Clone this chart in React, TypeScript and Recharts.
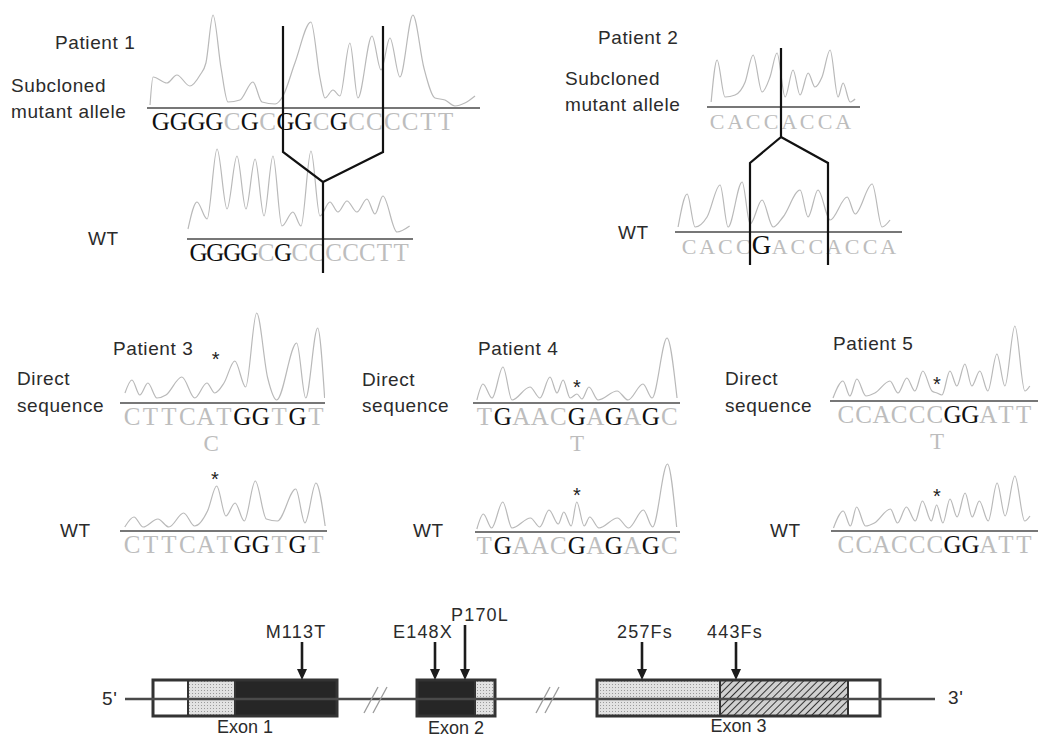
import React from 'react';
import { LineChart, Line, XAxis, YAxis, ReferenceDot, ComposedChart, ReferenceArea, ReferenceLine, Scatter } from 'recharts';

type Pt = [number, number];

// base calls under each trace
const p1MutSeq = 'GGGGCGCGGCGCCCCTT';
const p1WtSeq = 'GGGGCGCCCCCTT';
const p2MutSeq = 'CACCACCA';
const p2WtSeq = 'CACCGACCACCA';
const p3Seq = 'CTTCATGGTGT';
const p4Seq = 'TGAACGAGAGC';
const p5Seq = 'CCACCCGGATT';

// traces: [position in bases, signal height]
const p1MutTrace: Pt[] = [
  [-0.11, 3], [0.06, 31], [0.84, 25], [1.4, 33], [2.13, 22], [2.7, 33], [3.03, 45], [3.43, 93], [3.88, 40],
  [4.27, 6], [4.94, 8], [5.67, 26], [6.18, 6], [6.92, 4], [7.36, 12], [8.03, 45], [8.93, 86], [9.44, 30],
  [9.72, 10], [10.17, 18], [10.56, 12], [11.12, 65], [11.57, 10], [12.36, 72], [12.87, 38], [13.37, 70],
  [13.93, 31], [14.66, 93], [15.28, 40], [15.9, 10], [16.46, 8], [17.02, 2], [17.58, 5], [18.15, 12],
];
const p1WtTrace: Pt[] = [
  [-0.12, 10], [0.41, 37], [1.01, 20], [1.6, 90], [2.19, 30], [2.78, 83], [3.31, 30], [3.85, 80], [4.38, 23],
  [4.91, 83], [5.44, 13], [6.09, 27], [6.57, 13], [7.16, 88], [7.69, 23], [8.28, 37], [8.76, 27], [9.29, 38],
  [9.88, 27], [10.47, 40], [10.95, 25], [11.42, 43], [12.25, 7], [13.0, 13],
];
const p2MutTrace: Pt[] = [
  [0.17, 5], [0.5, 47], [0.94, 10], [1.5, 12], [2.06, 25], [2.5, 52], [3.0, 15], [3.44, 30], [3.83, 54],
  [4.28, 10], [4.72, 37], [5.11, 12], [5.56, 34], [5.94, 20], [6.33, 30], [6.78, 57], [7.22, 10], [7.5, 24],
  [7.89, 5], [8.17, 8],
];
const p2WtTrace: Pt[] = [
  [-0.11, 5], [0.39, 38], [0.83, 5], [1.49, 15], [2.21, 47], [2.65, 5], [3.43, 50], [3.87, 8], [4.53, 32],
  [5.14, 5], [5.69, 15], [6.63, 42], [7.07, 15], [7.62, 42], [8.29, 12], [9.23, 35], [9.67, 18], [10.61, 48],
  [11.16, 5], [11.6, 12],
];
const p3DirTrace: Pt[] = [
  [0.11, 10], [0.49, 23], [0.92, 8], [1.36, 20], [1.85, 5], [2.34, 8], [3.21, 26], [3.91, 5], [4.57, 20],
  [5.0, 10], [5.5, 20], [6.09, 42], [6.68, 16], [7.28, 90], [7.88, 25], [8.37, 3], [9.46, 60], [9.95, 5],
  [10.6, 75], [10.98, 5],
];
const p3WtTrace: Pt[] = [
  [0.1, 4], [0.6, 14], [1.1, 4], [1.9, 12], [2.5, 4], [3.3, 18], [3.9, 5], [4.6, 20], [5.1, 45], [5.6, 15],
  [6.1, 28], [6.6, 10], [7.2, 50], [7.8, 12], [8.4, 10], [9.4, 42], [9.9, 8], [10.5, 48], [11.0, 5],
];
const p4DirTrace: Pt[] = [
  [0.1, 3], [0.43, 19], [0.92, 5], [1.51, 36], [2.0, 3], [2.97, 16], [3.51, 5], [4.05, 26], [4.43, 10],
  [4.76, 23], [5.14, 5], [5.51, 9], [5.78, 4], [6.16, 16], [6.65, 3], [7.68, 12], [8.27, 3], [9.08, 19],
  [9.57, 5], [10.38, 65], [10.92, 5],
];
const p4WtTrace: Pt[] = [
  [0.1, 3], [0.45, 18], [0.9, 4], [1.5, 30], [2.0, 4], [3.0, 14], [3.5, 5], [4.0, 22], [4.5, 8], [4.8, 20],
  [5.2, 6], [5.5, 30], [5.9, 6], [6.2, 15], [6.7, 4], [7.7, 14], [8.3, 4], [9.1, 22], [9.6, 5], [10.4, 68],
  [10.9, 5],
];
const p5DirTrace: Pt[] = [
  [-0.22, 3], [0.34, 20], [0.73, 5], [1.12, 22], [1.63, 5], [2.13, 8], [2.98, 20], [3.43, 8], [3.93, 23],
  [4.38, 10], [4.83, 30], [5.34, 10], [5.62, 8], [5.9, 6], [6.35, 30], [6.74, 15], [7.19, 37], [7.58, 15],
  [8.03, 30], [8.48, 10], [8.99, 47], [9.44, 15], [10.0, 75], [10.56, 10], [10.84, 15],
];
const p5WtTrace: Pt[] = [
  [-0.2, 3], [0.35, 20], [0.75, 5], [1.1, 24], [1.6, 5], [2.1, 8], [3.0, 22], [3.4, 8], [3.9, 24], [4.4, 10],
  [4.8, 30], [5.3, 10], [5.6, 26], [5.95, 8], [6.35, 32], [6.75, 14], [7.2, 38], [7.6, 14], [8.0, 30],
  [8.5, 10], [9.0, 48], [9.45, 15], [10.0, 55], [10.55, 10], [10.85, 15],
];

// gene structure
const exonNames = ['Exon 1', 'Exon 2', 'Exon 3'];
const exonStarts = [153, 417, 597];
const exonParts: [string, number][][] = [
  [['utr', 35], ['dots', 47], ['coding', 102]],
  [['coding', 58], ['dots', 20]],
  [['dots', 123], ['hatch', 128], ['utr', 32]],
];
const mutNames = ['M113T', 'E148X', 'P170L', '257Fs', '443Fs'];
const mutPos = [302, 435, 465, 642, 736];
const mutRaised = [false, false, true, false, false];
const mutLabelShift = [-6, -12, 15, 3, -1];

const SERIF = '"Liberation Serif", "Times New Roman", serif';
const SANS = '"Liberation Sans", Arial, sans-serif';
const PLOT_H = 100;
const AXIS_H = 55;

const partFill: Record<string, string> = { utr: '#ffffff', dots: 'url(#dots)', coding: '#262626', hatch: 'url(#hatch)' };

interface PanelProps {
  seq: string;
  trace: Pt[];
  left: number;
  baseY: number;
  width: number;
  domain: [number, number];
  fontSize?: number;
  bigIndex?: number;
  star?: [number, number];
  alt?: [number, string];
}

const Panel: React.FC<PanelProps> = ({ seq, trace, left, baseY, width, domain, fontSize = 25, bigIndex = -1, star, alt }) => {
  const data = trace.map(([u, h]) => ({ u, h }));
  const ticks = seq.split('').map((_, i) => i + 0.5);
  const renderTick = (props: any) => {
    const { x, y, payload } = props;
    const i = Math.floor(payload.value);
    const b = seq[i];
    const big = i === bigIndex;
    return (
      <text x={x} y={y + 22} textAnchor="middle" fontFamily={SERIF} fontSize={big ? fontSize + 5 : fontSize}
        fill={b === 'G' ? '#101010' : '#bdbdbd'}>
        {b}
      </text>
    );
  };
  return (
    <div style={{ position: 'absolute', left, top: baseY - PLOT_H }}>
      <LineChart width={width} height={PLOT_H + AXIS_H} data={data} margin={{ top: 0, right: 0, bottom: 0, left: 0 }}>
        <XAxis dataKey="u" type="number" domain={domain} ticks={ticks} interval={0} height={AXIS_H}
          tickLine={false} tickSize={0} tickMargin={0} allowDataOverflow
          axisLine={{ stroke: '#4a4a4a', strokeWidth: 1.6 }} tick={renderTick} />
        <YAxis hide type="number" domain={[0, PLOT_H]} allowDataOverflow />
        <Line dataKey="h" type="monotone" stroke="#b9b9b9" strokeWidth={1.2} dot={false} isAnimationActive={false} />
        {star && (
          <ReferenceDot x={star[0]} y={star[1]} r={0} ifOverflow="visible"
            shape={(p: any) => (
              <text x={p.cx} y={p.cy + 11} textAnchor="middle" fontFamily={SANS} fontSize={20} fill="#222">*</text>
            )} />
        )}
        {alt && (
          <ReferenceDot x={alt[0]} y={-40} r={0} ifOverflow="visible"
            shape={(p: any) => (
              <text x={p.cx} y={p.cy + 8} textAnchor="middle" fontFamily={SERIF} fontSize={23} fill="#bdbdbd">{alt[1]}</text>
            )} />
        )}
      </LineChart>
    </div>
  );
};

const Txt: React.FC<{ x: number; y: number; size?: number; children: React.ReactNode }> = ({ x, y, size = 19, children }) => (
  <div style={{ position: 'absolute', left: x, top: y - size * 0.49, fontFamily: SANS, fontSize: size, lineHeight: `${size}px`,
    color: '#2b2b2b', whiteSpace: 'nowrap', letterSpacing: 0.6 }}>
    {children}
  </div>
);

// black guide lines linking mutant and wild-type traces (page pixels)
const connectors: Pt[][] = [
  [[283, 26], [283, 152], [323, 182], [323, 273]],
  [[383, 26], [383, 152], [323, 182]],
  [[781, 48], [781, 137], [750, 163], [750, 265]],
  [[781, 137], [828, 163], [828, 265]],
];

const MutArrow = (props: any) => {
  const { cx, cy, payload } = props;
  const len = payload.raised ? 55 : 38;
  return (
    <g>
      <line x1={cx} y1={cy - len} x2={cx} y2={cy - 9} stroke="#1c1c1c" strokeWidth={2.6} />
      <polygon points={`${cx - 5},${cy - 11} ${cx + 5},${cy - 11} ${cx},${cy}`} fill="#1c1c1c" />
      <text x={cx + payload.shift} y={cy - len - 4} textAnchor="middle" fontFamily={SANS} fontSize={18} letterSpacing={1.2} fill="#2b2b2b">
        {payload.name}
      </text>
    </g>
  );
};

const GeneMap: React.FC = () => {
  const exonLabelY = [127, 128, 126];
  const mutData = mutNames.map((name, i) => ({ x: mutPos[i], y: 80, name, raised: mutRaised[i], shift: mutLabelShift[i] }));
  return (
    <div style={{ position: 'absolute', left: 0, top: 600 }}>
      <ComposedChart width={1040} height={140} data={mutData} margin={{ top: 0, right: 0, bottom: 0, left: 0 }}>
        <defs>
          <pattern id="dots" width="3" height="3" patternUnits="userSpaceOnUse">
            <rect width="3" height="3" fill="#e2e2e2" />
            <rect width="1" height="1" fill="#9a9a9a" />
          </pattern>
          <pattern id="hatch" width="5" height="5" patternUnits="userSpaceOnUse" patternTransform="rotate(45)">
            <rect width="5" height="5" fill="#d0d0d0" />
            <line x1="0" y1="0" x2="0" y2="5" stroke="#333" strokeWidth="2" />
          </pattern>
        </defs>
        <XAxis dataKey="x" type="number" domain={[0, 1040]} hide />
        <YAxis dataKey="y" type="number" domain={[0, 140]} reversed hide />
        <ReferenceLine segment={[{ x: 125, y: 99 }, { x: 935, y: 99 }]} stroke="#4a4a4a" strokeWidth={2.5} />
        {[376, 548].map((b) => (
          <React.Fragment key={b}>
            <ReferenceLine segment={[{ x: b - 12, y: 113 }, { x: b + 2, y: 87 }]} stroke="#9a9a9a" strokeWidth={1.3} />
            <ReferenceLine segment={[{ x: b - 3, y: 113 }, { x: b + 11, y: 87 }]} stroke="#9a9a9a" strokeWidth={1.3} />
          </React.Fragment>
        ))}
        {exonParts.map((parts, e) => {
          let x = exonStarts[e];
          return parts.map(([kind, len], k) => {
            const x1 = x;
            x += len;
            return (
              <ReferenceArea key={`${e}-${k}`} x1={x1} x2={x} y1={80} y2={116} fill={partFill[kind]} fillOpacity={1}
                stroke="#333" strokeWidth={2} ifOverflow="visible" />
            );
          });
        })}
        {exonParts.map((parts, e) => {
          const total = parts.reduce((s, p) => s + p[1], 0);
          const cx = exonStarts[e] + total / 2;
          return (
            <React.Fragment key={`box-${e}`}>
              <ReferenceArea x1={exonStarts[e]} x2={exonStarts[e] + total} y1={80} y2={116} fill="none"
                stroke="#333" strokeWidth={3} ifOverflow="visible" />
              <ReferenceDot x={cx} y={exonLabelY[e]} r={0} ifOverflow="visible"
                shape={(p: any) => (
                  <text x={p.cx} y={p.cy + 6} textAnchor="middle" fontFamily={SANS} fontSize={18} fill="#2b2b2b">
                    {exonNames[e]}
                  </text>
                )} />
            </React.Fragment>
          );
        })}
        <Scatter dataKey="y" shape={MutArrow} isAnimationActive={false} />
      </ComposedChart>
    </div>
  );
};

const Connectors: React.FC = () => (
  <div style={{ position: 'absolute', left: 0, top: 0, pointerEvents: 'none' }}>
    <LineChart width={1040} height={740} margin={{ top: 0, right: 0, bottom: 0, left: 0 }}>
      <XAxis dataKey="x" type="number" domain={[0, 1040]} hide />
      <YAxis type="number" domain={[0, 740]} reversed hide />
      {connectors.map((c, i) => (
        <Line key={i} data={c.map(([x, y]) => ({ x, y }))} dataKey="y" type="linear" stroke="#111" strokeWidth={2.2}
          dot={false} isAnimationActive={false} />
      ))}
    </LineChart>
  </div>
);

export default function App() {
  return (
    <div style={{ position: 'absolute', left: 0, top: 0, width: 1040, height: 740, background: '#fff', overflow: 'hidden' }}>
      <Txt x={55} y={42}>Patient 1</Txt>
      <Txt x={11} y={85}>Subcloned</Txt>
      <Txt x={11} y={111}>mutant allele</Txt>
      <Txt x={88} y={238}>WT</Txt>
      <Panel seq={p1MutSeq} trace={p1MutTrace} left={147} baseY={108} width={333} domain={[-0.28, 18.43]} />
      <Panel seq={p1WtSeq} trace={p1WtTrace} left={187} baseY={239} width={226} domain={[-0.18, 13.2]} />

      <Txt x={598} y={37}>Patient 2</Txt>
      <Txt x={565} y={78}>Subcloned</Txt>
      <Txt x={565} y={104}>mutant allele</Txt>
      <Txt x={618} y={232}>WT</Txt>
      <Panel seq={p2MutSeq} trace={p2MutTrace} left={707} baseY={107} width={153} domain={[-0.06, 8.44]} fontSize={22} />
      <Panel seq={p2WtSeq} trace={p2WtTrace} left={675} baseY={232} width={227} domain={[-0.28, 12.26]} fontSize={22} bigIndex={4} />

      <Txt x={113} y={348}>Patient 3</Txt>
      <Txt x={17} y={378}>Direct</Txt>
      <Txt x={17} y={405}>sequence</Txt>
      <Txt x={60} y={530}>WT</Txt>
      <Panel seq={p3Seq} trace={p3DirTrace} left={120} baseY={403} width={205} domain={[-0.16, 11.0]} star={[5.05, 48]} alt={[4.8, 'C']} />
      <Panel seq={p3Seq} trace={p3WtTrace} left={120} baseY={531} width={207} domain={[-0.16, 11.1]} star={[5.0, 56]} />

      <Txt x={478} y={348}>Patient 4</Txt>
      <Txt x={362} y={379}>Direct</Txt>
      <Txt x={362} y={405}>sequence</Txt>
      <Txt x={413} y={530}>WT</Txt>
      <Panel seq={p4Seq} trace={p4DirTrace} left={473} baseY={403} width={207} domain={[-0.11, 11.08]} star={[5.51, 20]} alt={[5.51, 'T']} />
      <Panel seq={p4Seq} trace={p4WtTrace} left={475} baseY={532} width={205} domain={[0, 11.08]} star={[5.51, 41]} />

      <Txt x={833} y={343}>Patient 5</Txt>
      <Txt x={725} y={378}>Direct</Txt>
      <Txt x={725} y={405}>sequence</Txt>
      <Txt x={770} y={530}>WT</Txt>
      <Panel seq={p5Seq} trace={p5DirTrace} left={830} baseY={401} width={208} domain={[-0.39, 11.3]} star={[5.62, 21]} alt={[5.62, 'T']} />
      <Panel seq={p5Seq} trace={p5WtTrace} left={831} baseY={531} width={207} domain={[-0.34, 11.3]} star={[5.62, 39]} />

      <GeneMap />
      <Txt x={102} y={698}>5'</Txt>
      <Txt x={948} y={697}>3'</Txt>
      <Connectors />
    </div>
  );
}
